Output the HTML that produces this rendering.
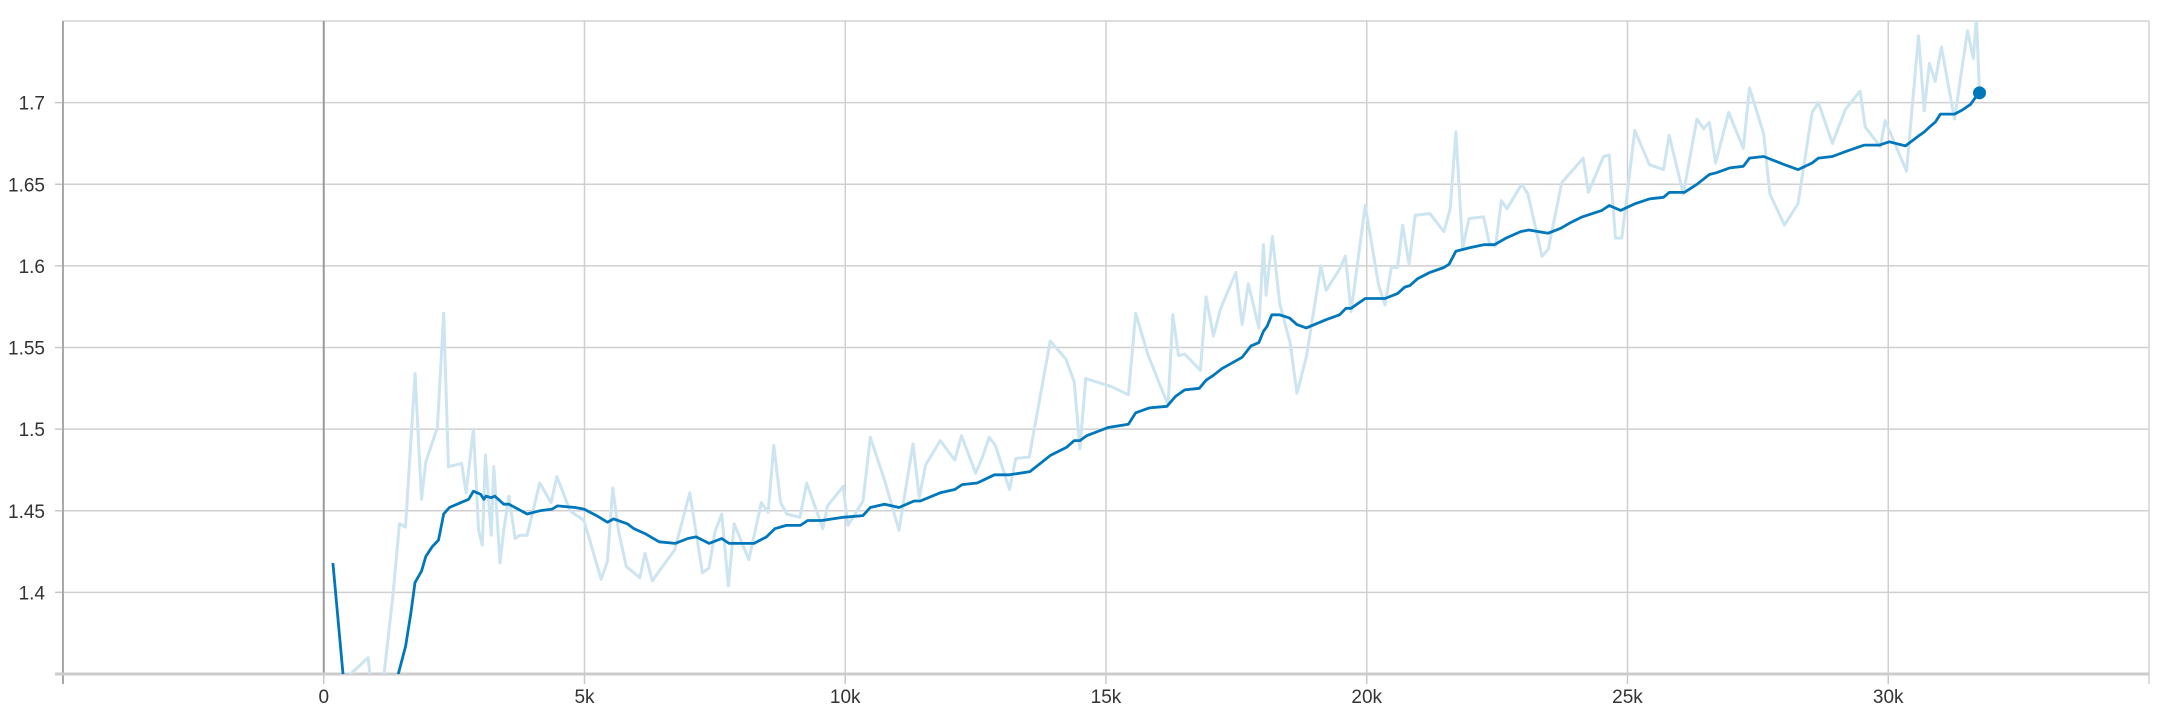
<!DOCTYPE html>
<html><head><meta charset="utf-8">
<style>
html,body{margin:0;padding:0;background:#fff;overflow:hidden;width:2158px;height:710px;}
svg{display:block;font-family:"Liberation Sans",sans-serif;}
</style></head>
<body>
<svg id="chart" width="2158" height="710" viewBox="0 0 2158 710">
<defs><clipPath id="plotclip"><rect x="63" y="21" width="2086" height="653"/></clipPath></defs>
<g id="grid"></g>
<g id="axes"></g>
<g clip-path="url(#plotclip)">
<path id="raw" fill="none" stroke="#cde4f1" stroke-width="3" stroke-linejoin="round"/>
<path id="smooth" fill="none" stroke="#0077bb" stroke-width="2.8" stroke-linejoin="round"/>
</g>
<circle id="dot" r="6.5" fill="#0077bb"/>
</svg>
<script>
const xTicks = [0,5000,10000,15000,20000,25000,30000];
const xTickLabels = ["0","5k","10k","15k","20k","25k","30k"];
const yTicks = [1.4,1.45,1.5,1.55,1.6,1.65,1.7];
const yTickLabels = ["1.4","1.45","1.5","1.55","1.6","1.65","1.7"];
const rawSteps = [0.175,0.85,0.92,1.12,1.33,1.45,1.567,1.752,1.875,1.957,2.18,2.30,2.39,2.643,2.73,2.87,2.97,3.04,3.10,3.21,3.26,3.38,3.45,3.55,3.67,3.76,3.90,4.14,4.36,4.47,4.58,4.72,4.99,5.10,5.32,5.44,5.54,5.65,5.80,6.06,6.16,6.30,6.43,6.73,7.02,7.26,7.39,7.50,7.63,7.76,7.87,8.15,8.39,8.52,8.63,8.76,8.88,9.13,9.26,9.57,9.66,9.96,10.05,10.34,10.48,10.75,11.03,11.3,11.42,11.54,11.82,12.10,12.23,12.50,12.62,12.76,12.88,13.15,13.27,13.53,13.93,14.23,14.39,14.5,14.61,15.11,15.43,15.57,15.80,16.06,16.19,16.28,16.39,16.51,16.81,16.92,17.06,17.20,17.49,17.61,17.73,17.93,18.02,18.07,18.19,18.33,18.53,18.66,18.84,19.12,19.22,19.48,19.59,19.70,19.97,20.23,20.35,20.47,20.59,20.69,20.81,20.93,21.21,21.48,21.60,21.71,21.84,21.96,22.24,22.35,22.47,22.58,22.69,22.97,23.09,23.36,23.48,23.74,24.15,24.25,24.54,24.65,24.77,24.89,25.14,25.42,25.69,25.80,26.07,26.33,26.46,26.57,26.69,26.94,27.22,27.34,27.61,27.73,28.01,28.27,28.54,28.66,28.93,29.18,29.46,29.56,29.85,29.94,30.35,30.58,30.69,30.79,30.9,31.02,31.27,31.52,31.63,31.69,31.75];
const rawValues = [1.34,1.36,1.34,1.34,1.399,1.442,1.44,1.534,1.457,1.48,1.501,1.571,1.477,1.479,1.461,1.500,1.438,1.429,1.484,1.435,1.477,1.418,1.438,1.459,1.433,1.435,1.435,1.467,1.455,1.471,1.462,1.450,1.444,1.432,1.408,1.419,1.464,1.438,1.416,1.409,1.424,1.407,1.413,1.426,1.461,1.412,1.415,1.437,1.448,1.404,1.442,1.420,1.455,1.449,1.490,1.455,1.448,1.446,1.467,1.439,1.453,1.465,1.441,1.456,1.495,1.469,1.438,1.491,1.458,1.478,1.493,1.481,1.496,1.473,1.482,1.495,1.490,1.463,1.482,1.483,1.554,1.543,1.529,1.488,1.531,1.526,1.521,1.571,1.546,1.525,1.515,1.570,1.545,1.546,1.536,1.581,1.557,1.574,1.596,1.564,1.589,1.562,1.613,1.582,1.618,1.577,1.553,1.522,1.544,1.600,1.585,1.598,1.606,1.572,1.637,1.588,1.576,1.599,1.599,1.625,1.601,1.631,1.632,1.621,1.635,1.682,1.611,1.629,1.630,1.614,1.612,1.640,1.635,1.650,1.644,1.606,1.610,1.651,1.666,1.645,1.667,1.668,1.617,1.617,1.683,1.662,1.659,1.680,1.644,1.690,1.684,1.688,1.663,1.694,1.672,1.709,1.681,1.644,1.625,1.638,1.694,1.700,1.675,1.696,1.707,1.685,1.673,1.689,1.658,1.741,1.695,1.724,1.713,1.734,1.690,1.744,1.727,1.752,1.706];
const smoothSteps = [0.175,0.37,0.5,1.35,1.43,1.57,1.67,1.75,1.875,1.957,2.08,2.20,2.30,2.41,2.63,2.78,2.87,3.01,3.07,3.11,3.21,3.28,3.45,3.55,3.90,4.14,4.38,4.48,4.82,4.99,5.23,5.44,5.56,5.82,5.95,6.16,6.43,6.74,6.98,7.14,7.39,7.63,7.77,7.94,8.25,8.49,8.65,8.87,9.14,9.28,9.55,9.96,10.34,10.48,10.75,11.03,11.32,11.44,11.82,12.10,12.24,12.53,12.86,13.15,13.54,13.94,14.25,14.39,14.50,14.63,15.04,15.43,15.57,15.83,16.17,16.33,16.51,16.79,16.92,17.06,17.22,17.61,17.78,17.93,18.02,18.09,18.18,18.33,18.52,18.66,18.84,19.22,19.48,19.60,19.70,19.97,20.35,20.59,20.73,20.83,20.97,21.21,21.48,21.58,21.71,21.84,21.96,22.24,22.45,22.67,22.95,23.11,23.48,23.72,23.88,24.13,24.51,24.65,24.87,25.14,25.42,25.69,25.80,26.09,26.33,26.57,26.70,26.96,27.22,27.34,27.61,28.01,28.27,28.54,28.66,28.93,29.18,29.54,29.83,30.02,30.33,30.6,30.69,30.79,30.9,31.0,31.27,31.42,31.58,31.67,31.75];
const smoothValues = [1.418,1.35,1.34,1.34,1.35,1.367,1.387,1.406,1.413,1.422,1.428,1.432,1.448,1.452,1.455,1.457,1.462,1.460,1.457,1.459,1.458,1.459,1.454,1.454,1.448,1.450,1.451,1.453,1.452,1.451,1.447,1.443,1.445,1.442,1.439,1.436,1.431,1.430,1.433,1.434,1.430,1.433,1.430,1.430,1.430,1.434,1.439,1.441,1.441,1.444,1.444,1.446,1.447,1.452,1.454,1.452,1.456,1.456,1.461,1.463,1.466,1.467,1.472,1.472,1.474,1.484,1.489,1.493,1.493,1.496,1.501,1.503,1.510,1.513,1.514,1.520,1.524,1.525,1.530,1.533,1.537,1.544,1.551,1.553,1.560,1.563,1.570,1.570,1.568,1.564,1.562,1.567,1.570,1.574,1.574,1.580,1.580,1.583,1.587,1.588,1.592,1.596,1.599,1.601,1.609,1.610,1.611,1.613,1.613,1.617,1.621,1.622,1.620,1.623,1.626,1.630,1.634,1.637,1.634,1.638,1.641,1.642,1.645,1.645,1.650,1.656,1.657,1.660,1.661,1.666,1.667,1.662,1.659,1.663,1.666,1.667,1.670,1.674,1.674,1.676,1.6735,1.680,1.682,1.685,1.688,1.693,1.693,1.6955,1.699,1.703,1.706];

const X0=63,X1=2149,Y0=674,Y1=21;
const xMin=-5000,xMax=35000,yMin=1.35,yMax=1.75;
function sx(v){return X0+(v-xMin)/(xMax-xMin)*(X1-X0);}
function sy(v){return Y0-(v-yMin)/(yMax-yMin)*(Y0-Y1);}
const NS="http://www.w3.org/2000/svg";
function mk(tag,attrs,parent){const e=document.createElementNS(NS,tag);for(const k in attrs)e.setAttribute(k,attrs[k]);parent.appendChild(e);return e;}
const gridG=document.getElementById('grid'), axesG=document.getElementById('axes');
const topLine=mk('line',{x1:X0,x2:X1,y1:Y1,y2:Y1,stroke:'#d4d4d4','stroke-width':1.5},gridG);


yTicks.forEach((t,i)=>{
  const y=sy(t);
  const l=mk('line',{x1:X0,x2:X1,y1:y,y2:y,stroke:'#d0d0d0','stroke-width':1.5},gridG);
  
  
  const tk=mk('line',{x1:X0-8,x2:X0,y1:y,y2:y,stroke:'#c8c8c8','stroke-width':1.5},axesG);
  
  
  const tx=mk('text',{x:X0-18,y:y+7,'text-anchor':'end','font-size':19,fill:'#333'},axesG);
  tx.textContent=yTickLabels[i];
  
  
});
xTicks.forEach((t,i)=>{
  const x=sx(t);
  const l=mk('line',{x1:x,x2:x,y1:Y1,y2:Y0,stroke:t===0?'#9a9a9a':'#d0d0d0','stroke-width':t===0?2:1.5},gridG);
  
  
  const tk=mk('line',{x1:x,x2:x,y1:Y0,y2:Y0+10,stroke:'#c8c8c8','stroke-width':1.5},axesG);
  
  
  const tx=mk('text',{x:x,y:703,'text-anchor':'middle','font-size':19,fill:'#333'},axesG);
  tx.textContent=xTickLabels[i];
  
  
});
const la=mk('line',{x1:X0,x2:X0,y1:Y1,y2:Y0+10,stroke:'#a8a8a8','stroke-width':2},axesG);


const rb=mk('line',{x1:X1,x2:X1,y1:Y1,y2:Y0+10,stroke:'#d4d4d4','stroke-width':1.5},axesG);


const ba=mk('line',{x1:X0-8,x2:X1,y1:Y0,y2:Y0,stroke:'#cccccc','stroke-width':3},axesG);



function pathFrom(xs,ys){const n=Math.min(xs.length,ys.length);let d='';for(let i=0;i<n;i++){d+=(i?'L':'M')+sx(xs[i]*1000).toFixed(1)+','+sy(ys[i]).toFixed(1);}return d;}
document.getElementById('raw').setAttribute('d',pathFrom(rawSteps,rawValues));
document.getElementById('smooth').setAttribute('d',pathFrom(smoothSteps,smoothValues));
const last=Math.min(smoothSteps.length,smoothValues.length)-1;
const dot=document.getElementById('dot');
dot.setAttribute('cx',sx(smoothSteps[last]*1000));
dot.setAttribute('cy',sy(smoothValues[last]));
</script>
</body></html>
